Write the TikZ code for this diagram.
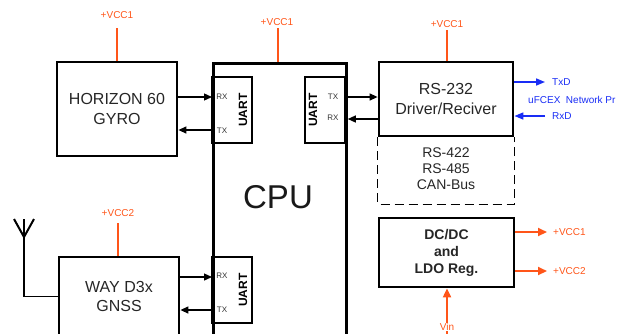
\documentclass[tikz,border=0pt]{standalone}
\usepackage{fontspec}
\setmainfont{Liberation Sans}
\usetikzlibrary{arrows.meta}
\definecolor{pwr}{RGB}{255,85,25}
\definecolor{net}{RGB}{25,45,245}
\begin{document}
\begin{tikzpicture}[x=1pt,y=-1pt,
  blk/.style={draw=black,line width=2.8pt,inner sep=0pt,align=center,text=black!85,font=\fontsize{16}{19.5}\selectfont},
  uart/.style={draw=black,line width=1.2pt,minimum width=40pt,minimum height=66pt,inner sep=0pt},
  uartlbl/.style={rotate=90,inner sep=0pt,font=\bfseries\fontsize{12}{14}\selectfont},
  pin/.style={inner sep=0pt,text=black!80,font=\fontsize{8}{9}\selectfont},
  sig/.style={line width=1.3pt,-{Triangle[length=8pt,width=7pt]}},
  pwrline/.style={draw=pwr,line width=2pt},
  pwrarrow/.style={draw=pwr,fill=pwr,line width=2pt,-{Triangle[length=9pt,width=8pt]}},
  pwrlbl/.style={inner sep=0pt,text=pwr,font=\fontsize{10}{12}\selectfont},
  netarrow/.style={draw=net,line width=1.6pt,-{Triangle[length=9pt,width=7pt]}},
  netlbl/.style={inner sep=0pt,text=net,font=\fontsize{10}{12}\selectfont}
]
\useasboundingbox (0,0) rectangle (628,333);
\clip (0,0) rectangle (628,333);

% blocks
\node[blk,minimum width=120pt,minimum height=94pt] (gyro) at (117,109) {HORIZON 60\\GYRO};
\node[draw=black,line width=2.8pt,minimum width=133pt,minimum height=300pt,anchor=north west,inner sep=0pt] (cpu) at (212,62) {};
\node[inner sep=0pt,font=\fontsize{33}{36}\selectfont,text=black!90] (cputxt) at (278,197) {CPU};
\node[blk,minimum width=134pt,minimum height=74pt] (rs) at (446,99) {RS-232\\Driver/Reciver};
\node[blk,minimum width=135pt,minimum height=69pt,font=\bfseries\fontsize{14}{17}\selectfont] (dc) at (446.5,252.5) {DC/DC\\and\\LDO Reg.};
\node[blk,minimum width=120pt,minimum height=79pt] (way) at (119,296.5) {WAY D3x\\GNSS};

% optional interfaces (dashed)
\draw[line width=1.4pt,dash pattern=on 9pt off 5pt] (rs.south west) -- ++(0,67) -| (rs.south east);
\node[inner sep=0pt,align=center,text=black!85,font=\fontsize{14}{16}\selectfont] (opt) at (446,169) {RS-422\\RS-485\\CAN-Bus};

% UARTs
\node[uart] (u1) at (232,110) {};
\node[uartlbl] (u1l) at (243,110) {UART};
\node[pin] (u1rx) at (222,97) {RX};
\node[pin] (u1tx) at (222,131) {TX};

\node[uart] (u2) at (325,110) {};
\node[uartlbl] (u2l) at (313,110) {UART};
\node[pin] (u2tx) at (333,97) {TX};
\node[pin] (u2rx) at (333,118) {RX};

\node[uart] (u3) at (232,290) {};
\node[uartlbl] (u3l) at (243,290) {UART};
\node[pin] (u3rx) at (222,276) {RX};
\node[pin] (u3tx) at (222,310) {TX};

% signal arrows
\coordinate (g1) at ([yshift=12pt]gyro.east);
\coordinate (g2) at ([yshift=-21pt]gyro.east);
\draw[sig] (g1) -- (g1 -| cpu.west);
\draw[sig] (g2 -| cpu.west) -- (g2);

\coordinate (r1) at ([yshift=2pt]rs.west);
\coordinate (r2) at ([yshift=-20pt]rs.west);
\draw[sig] (r1 -| cpu.east) -- (r1);
\draw[sig] (r2) -- (r2 -| cpu.east);

\coordinate (w1) at ([yshift=19.5pt]way.east);
\coordinate (w2) at ([yshift=-13.5pt]way.east);
\draw[sig] (w1) -- (w1 -| cpu.west);
\draw[sig] (w2 -| cpu.west) -- (w2);

% antenna
\coordinate (anttop) at (24,219);
\coordinate (antfoot) at (24,237);
\draw[line width=2pt,line join=miter] ([xshift=-10pt]anttop) -- (antfoot) -- ([xshift=10pt]anttop);
\draw[line width=1.8pt] (anttop) -- (anttop |- way.west) -- (way.west);

% power supply lines
\coordinate (gv) at (117,28);
\draw[pwrline] (gyro.north) -- (gv);
\node[pwrlbl] (gvl) at (117,15) {+VCC1};

\coordinate (cv) at (278,28);
\draw[pwrline] (cv |- cpu.north) -- (cv);
\node[pwrlbl] (cvl) at (277,22.5) {+VCC1};

\coordinate (rv) at (447,30);
\draw[pwrline] (rv |- rs.north) -- (rv);
\node[pwrlbl] (rvl) at (447,24) {+VCC1};

\coordinate (wv) at (118,223);
\draw[pwrline] (wv |- way.north) -- (wv);
\node[pwrlbl] (wvl) at (118,213) {+VCC2};

% DC/DC outputs and input
\coordinate (d1) at ([yshift=20.5pt]dc.east);
\coordinate (d2) at ([yshift=-18.5pt]dc.east);
\coordinate (d1e) at (547,232);
\coordinate (d2e) at (547,271);
\draw[pwrarrow] (d1) -- (d1e);
\draw[pwrarrow] (d2) -- (d2e);
\node[pwrlbl,anchor=west] (d1l) at (553,232) {+VCC1};
\node[pwrlbl,anchor=west] (d2l) at (553,271) {+VCC2};

\coordinate (vin) at (447,345);
\draw[pwrarrow] (vin) -- (vin |- dc.south);
\node[pwrlbl,fill=white,inner sep=0.5pt] (vinl) at (447,327) {Vin};

% network port
\coordinate (t1) at ([yshift=17pt]rs.east);
\coordinate (t2) at ([yshift=-17pt]rs.east);
\coordinate (t1e) at (545,82);
\coordinate (t2e) at (545,116);
\draw[netarrow] (t1) -- (t1e);
\draw[netarrow] (t2e) -- (t2);
\node[netlbl,anchor=west] (txd) at (552,82) {TxD};
\node[netlbl,anchor=west] (rxd) at (552,116) {RxD};
\node[netlbl,anchor=west] (netp) at (528,100) {uFCEX\ \ Network Pr};
\end{tikzpicture}
\end{document}
